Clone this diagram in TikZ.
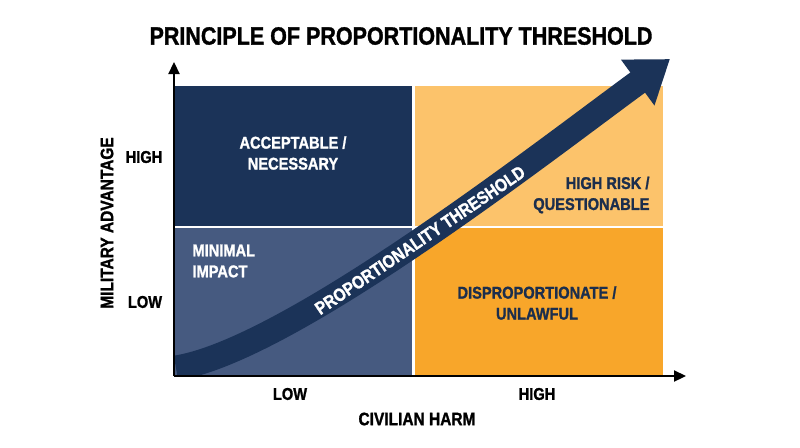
\documentclass[tikz,border=0pt]{standalone}
\usepackage{fontspec}
\setmainfont{Liberation Sans}[FakeStretch=0.86, BoldFeatures={FakeBold=1.3}]
\usetikzlibrary{arrows.meta}

\definecolor{navy}{HTML}{1B3358}
\definecolor{slate}{HTML}{465A80}
\definecolor{paleorange}{HTML}{FCC36B}
\definecolor{deeporange}{HTML}{F8A62A}
\definecolor{inknavy}{HTML}{1B2E4D}

\tikzset{
  axis/.style={line width=2.2pt, -{Triangle[length=12pt,width=11pt]}},
  lbl/.style={font=\fontsize{17}{21}\selectfont\bfseries, align=center},
  band/.style={navy, line width=25pt, -{Triangle[length=40pt,width=54pt]}},
}

\begin{document}
\begin{tikzpicture}[x=1pt,y=-1pt]
  \useasboundingbox (0,0) rectangle (800,447);

  % title
  \node[font=\fontsize{25}{30}\selectfont\bfseries] (title) at (401,36) {PRINCIPLE OF PROPORTIONALITY THRESHOLD};

  % quadrants
  \fill[navy] (174,86) rectangle (412,226);
  \fill[slate] (174,228) rectangle (412,376);
  \fill[paleorange] (415,86) rectangle (663,226);
  \fill[deeporange] (415,228) rectangle (663,376);

  \node[lbl, text=white] (accept) at (293,153) {ACCEPTABLE /\\NECESSARY};
  \node[lbl, text=white, align=left, anchor=west] (minimal) at (189,261) {MINIMAL\\IMPACT};
  \node[lbl, text=inknavy, align=right, anchor=east] (risk) at (653,195) {HIGH RISK /\\QUESTIONABLE};
  \node[lbl, text=inknavy] (unlawful) at (537,303) {DISPROPORTIONATE /\\UNLAWFUL};

  % threshold arrow
  \coordinate (tstart) at (176,368);
  \coordinate (ttip) at (670,59);
  \begin{scope}
    \clip (174,0) rectangle (800,375);
    \draw[band] (tstart) .. controls (290,350) and (548,148) .. (ttip)
      node[pos=0.5, sloped, text=white, font=\fontsize{18}{20}\selectfont\bfseries] (thr) {PROPORTIONALITY THRESHOLD};
  \end{scope}

  % axes
  \coordinate (origin) at (174,376);
  \coordinate (ytop) at (174,62);
  \coordinate (xend) at (686,376);
  \draw[axis] (origin) -- (ytop);
  \draw[axis] (origin) -- (xend);

  \node[lbl] (yhigh) at (144,157) {HIGH};
  \node[lbl] (ylow) at (145,302) {LOW};
  \node[lbl, rotate=90, font=\fontsize{18}{21}\selectfont\bfseries] (ylabel) at (107,223) {MILITARY ADVANTAGE};
  \node[lbl] (xlow) at (290,394) {LOW};
  \node[lbl] (xhigh) at (537,394) {HIGH};
  \node[lbl, font=\fontsize{18}{21}\selectfont\bfseries] (xlabel) at (417,419) {CIVILIAN HARM};
\end{tikzpicture}
\end{document}
